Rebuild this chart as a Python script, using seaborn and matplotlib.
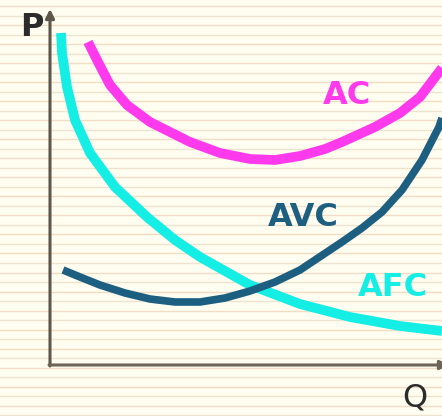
import numpy as np
import matplotlib.pyplot as plt
import seaborn as sns

# cost curves (Q, cost)
q_afc = [1.1, 1.2, 1.7, 2.5, 4.0, 6.5, 9.7, 12.5, 15, 20, 25, 30, 35, 39.2]
afc = [33.2, 31.2, 27.8, 24.5, 21.2, 17.8, 14.8, 12.5, 10.8, 8.0, 6.1, 4.8, 3.9, 3.4]

q_ac = [3.8, 4.8, 6.0, 7.7, 10, 14, 17, 20, 22.5, 25, 27.5, 29.2, 32.5, 35, 37, 39.2]
ac = [32.3, 30.3, 28.0, 26.0, 24.3, 22.3, 21.2, 20.6, 20.5, 20.9, 21.6, 22.3, 23.8, 25.2, 26.8, 29.7]

q_avc = [1.3, 3.0, 5.0, 7.5, 10, 12.5, 15, 17.5, 20, 22.5, 25, 27.1, 29.2, 31.2,
         33.2, 35.2, 37.2, 38.9, 39.2]
avc = [9.5, 8.8, 8.0, 7.2, 6.6, 6.3, 6.3, 6.7, 7.4, 8.3, 9.5, 10.9, 12.3, 13.7,
       15.3, 17.5, 20.5, 23.8, 24.7]

labels = ["AC", "AVC", "AFC"]
colors = ["#ff3aec", "#1d5f80", "#14eee4"]

fig = plt.figure(figsize=(4.42, 4.16), dpi=100, facecolor="#fffdf0")
ax = fig.add_axes([0, 0, 1, 1])
ax.set_facecolor("#fffdf0")

# lined paper
for k, yy in enumerate(np.arange(-5.0, 41.6, 0.95)):
    ax.axhline(yy, color="#f1dcc6" if k % 2 else "#ece4cf", lw=1.0, zorder=0)

line_kw = dict(ax=ax, solid_joinstyle="round", solid_capstyle="butt")
sns.lineplot(x=q_afc, y=afc, color=colors[2], lw=7.0, zorder=3, **line_kw)
sns.lineplot(x=q_ac, y=ac, color=colors[0], lw=7.0, zorder=3, **line_kw)
sns.lineplot(x=q_avc, y=avc, color=colors[1], lw=5.5, zorder=4, **line_kw)

# axes with arrows
ax.annotate("", xy=(0, 35.6), xytext=(0, -0.1), annotation_clip=False,
            arrowprops=dict(arrowstyle="-|>", lw=2.2, color="#5e564c",
                            mutation_scale=13, shrinkA=0, shrinkB=0))
ax.annotate("", xy=(39.9, 0), xytext=(-0.1, 0), annotation_clip=False,
            arrowprops=dict(arrowstyle="-|>", lw=2.2, color="#6e6458",
                            mutation_scale=13, shrinkA=0, shrinkB=0))

ax.text(-1.8, 33.7, "P", fontsize=23, fontweight="bold", color="#2b2b2b",
        ha="center", va="center")
ax.text(36.5, -3.3, "Q", fontsize=23, color="#2b2b2b", ha="center", va="center")

ax.text(29.7, 27.0, "AC", fontsize=23, fontweight="bold", color=colors[0],
        ha="center", va="center")
ax.text(25.3, 14.7, "AVC", fontsize=23, fontweight="bold", color=colors[1],
        ha="center", va="center")
ax.text(34.3, 7.8, "AFC", fontsize=23, fontweight="bold", color=colors[2],
        ha="center", va="center")

ax.set_xlim(-5.0, 39.2)
ax.set_ylim(-5.1, 36.5)
ax.set_axis_off()
ax.patch.set_visible(True)

fig.savefig("out.png", dpi=100, facecolor=fig.get_facecolor())
